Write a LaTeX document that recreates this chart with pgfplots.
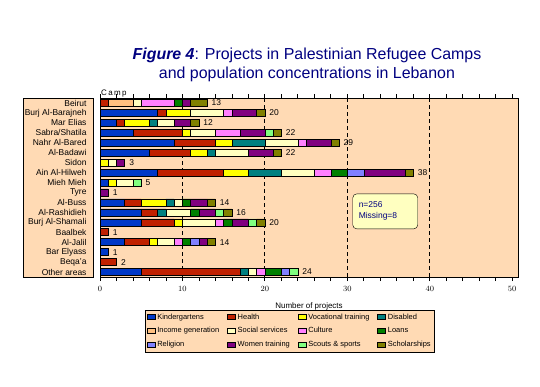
\documentclass[border=0pt]{standalone}
\usepackage{pgfplots}
\pgfplotsset{compat=1.18}
\usepackage{pgfplotstable}
\usepackage{fontspec}
\setmainfont{Liberation Sans}
\definecolor{peach}{RGB}{255,218,180}
\definecolor{navyt}{RGB}{0,0,128}
\definecolor{cKin}{RGB}{0,56,200}
\definecolor{cHea}{RGB}{192,32,0}
\definecolor{cVoc}{RGB}{255,255,0}
\definecolor{cDis}{RGB}{0,128,128}
\definecolor{cInc}{RGB}{255,192,128}
\definecolor{cSoc}{RGB}{255,255,192}
\definecolor{cCul}{RGB}{255,128,255}
\definecolor{cLoa}{RGB}{0,128,0}
\definecolor{cRel}{RGB}{128,128,255}
\definecolor{cWom}{RGB}{128,0,128}
\definecolor{cSco}{RGB}{128,255,128}
\definecolor{cSch}{RGB}{128,128,0}

\pgfplotstableread{
idx kin hea voc dis inc soc cul loa rel wom sco sch tot
0  0  1  0  0  3  1  4  1  0  1  0  2  13
1  7  1  3  0  0  4  1  0  0  3  0  1  20
2  2  1  3  1  0  2  0  0  0  2  0  1  12
3  4  6  1  0  0  3  3  0  0  3  1  1  22
4  9  5  2  4  0  4  1  0  0  3  0  1  29
5  6  5  2  1  0  4  0  0  0  3  0  1  22
6  0  0  1  0  0  1  0  0  0  1  0  0  3
7  7  8  3  4  0  4  2  2  2  5  0  1  38
8  1  0  1  0  0  2  0  0  0  0  1  0  5
9  0  0  0  0  0  0  0  0  0  1  0  0  1
10 3  2  3  1  0  1  0  1  0  2  0  1  14
11 5  2  0  1  0  3  0  1  0  2  1  1  16
12 5  4  1  0  0  4  1  1  0  2  1  1  20
13 0  1  0  0  0  0  0  0  0  0  0  0  1
14 3  3  1  0  0  2  1  1  1  1  0  1  14
15 1  0  0  0  0  0  0  0  0  0  0  0  1
16 0  2  0  0  0  0  0  0  0  0  0  0  2
17 5  12 0  1  0  1  1  2  1  0  1  0  24
}\data

\begin{document}
\begin{tikzpicture}
\useasboundingbox (0,0) rectangle (540bp,387bp);
\node[font=\fontsize{16}{19}\selectfont, text=navyt, align=center] at (307bp,322bp)
  {\textbf{\textit{Figure 4}}: Projects in Palestinian Refugee Camps\\and population concentrations in Lebanon};
\filldraw[fill=peach, draw=black, line width=0.8bp] (23bp,110bp) rectangle (93bp,289bp);
\begin{axis}[
  at={(100bp,110bp)}, anchor=south west,
  scale only axis, width=418bp, height=179bp,
  xbar stacked, bar width=7bp,
  xmin=0, xmax=50.7, ymin=-0.5, ymax=17.5, y dir=reverse,
  axis background/.style={fill=peach},
  axis line style={line width=0.8bp},
  ytick={0,...,17},
  yticklabels={Beirut,Burj Al-Barajneh,Mar Elias,Sabra/Shatila,Nahr Al-Bared,Al-Badawi,Sidon,Ain Al-Hilweh,Mieh Mieh,Tyre,Al-Buss,Al-Rashidieh,Burj Al-Shamali,Baalbek,Al-Jalil,Bar Elyass,Beqa'a,Other areas},
  ytick style={draw=none},
  yticklabel style={font=\fontsize{8.5}{9}\selectfont, xshift=-6bp},
  xtick={0,10,...,50},
  minor x tick num=4,
  tick align=outside,
  major tick length=4bp, minor tick length=4bp,
  xtick style={black, line width=0.8bp},
  xticklabel style={font=\fontsize{8}{9}\selectfont, yshift=-2bp},
  extra x ticks={10,20,30,40},
  extra x tick labels={},
  extra x tick style={grid=major, major tick length=0pt},
  grid style={black, line width=1bp, dash pattern=on 4bp off 3bp},
  xlabel={Number of projects},
  xlabel style={font=\fontsize{8}{9}\selectfont},
  legend columns=4,
  legend cell align=left,
  legend style={at={(0.108,-0.184)}, anchor=north west, fill=peach, draw=black,
    font=\fontsize{7.5}{9}\selectfont, inner sep=1.5bp,
    /tikz/every even column/.append style={column sep=6bp},
    row sep=3bp},
  legend image code/.code={\draw[#1, draw=black, line width=0.5bp] (0bp,-2.5bp) rectangle (8bp,2.5bp);},
  every axis plot/.append style={draw=black, line width=0.6bp},
  clip=false,
]
\addplot[fill=cKin] table[x=kin, y=idx]{\data};
\addplot[fill=cHea] table[x=hea, y=idx]{\data};
\addplot[fill=cVoc] table[x=voc, y=idx]{\data};
\addplot[fill=cDis] table[x=dis, y=idx]{\data};
\addplot[fill=cInc] table[x=inc, y=idx]{\data};
\addplot[fill=cSoc] table[x=soc, y=idx]{\data};
\addplot[fill=cCul] table[x=cul, y=idx]{\data};
\addplot[fill=cLoa] table[x=loa, y=idx]{\data};
\addplot[fill=cRel] table[x=rel, y=idx]{\data};
\addplot[fill=cWom] table[x=wom, y=idx]{\data};
\addplot[fill=cSco] table[x=sco, y=idx]{\data};
\addplot[fill=cSch] table[x=sch, y=idx]{\data};
\legend{Kindergartens,Health,Vocational training,Disabled,Income generation,Social services,Culture,Loans,Religion,Women training,Scouts \& sports,Scholarships}
\node[draw=black, fill=cSoc, rounded corners=4bp, align=left, text=navyt,
  font=\fontsize{8.5}{11}\selectfont, minimum width=65bp, minimum height=35bp, text width=53bp]
  at (axis cs:34.6,10.9) {n=256\\Missing=8};
\node[anchor=south west, font=\fontsize{8}{9}\selectfont, inner sep=1bp] at (rel axis cs:0,1) {C\,a\,m\,p};
\end{axis}
\begin{axis}[
  at={(100bp,110bp)}, anchor=south west,
  scale only axis, width=418bp, height=179bp,
  xmin=0, xmax=50.7, ymin=-0.5, ymax=17.5, y dir=reverse,
  hide axis, clip=false,
]
\addplot[only marks, mark=none, nodes near coords, point meta=explicit,
  nodes near coords align=horizontal,
  nodes near coords style={anchor=west, font=\fontsize{8.5}{9}\selectfont, text=black, xshift=1bp, /pgf/number format/assume math mode=true},
  ] table[x=tot, y=idx, meta=tot]{\data};
\end{axis}
\end{tikzpicture}
\end{document}
